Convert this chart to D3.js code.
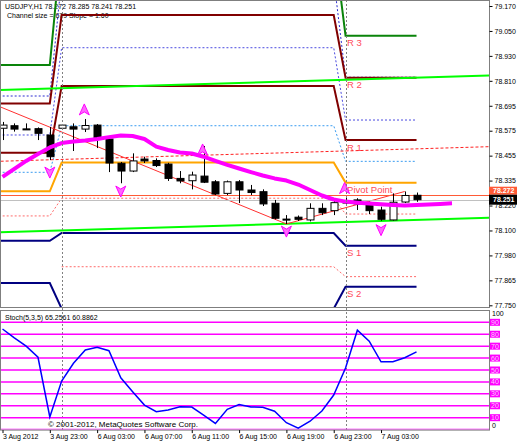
<!DOCTYPE html>
<html>
<head>
<meta charset="utf-8">
<script src="https://cdn.jsdelivr.net/npm/d3@7"></script>
<style>
body { margin: 0; background: #fff; }
svg text { font-family: "Liberation Sans", Arial, sans-serif; }
</style>
</head>
<body>
<div id="chart"></div>
<script>
// USDJPY H1, bar 0 = 3 Aug 2012 19:00
var opens  = [78.590,78.602,78.587,78.588,78.558,78.590,78.597,78.586,78.605,78.539,78.424,78.387,78.444,78.437,78.420,78.352,78.341,78.363,78.336,78.281,78.336,78.297,78.289,78.234,78.159,78.168,78.155,78.210,78.199,78.235,78.250,78.226,78.202,78.155,78.240,78.272];
var highs  = [78.620,78.613,78.613,78.594,78.596,78.608,78.613,78.634,78.610,78.553,78.430,78.471,78.455,78.447,78.426,78.387,78.384,78.506,78.344,78.342,78.344,78.321,78.300,78.250,78.178,78.176,78.234,78.234,78.258,78.259,78.258,78.242,78.218,78.281,78.290,78.285];
var lows   = [78.534,78.574,78.584,78.534,78.439,78.582,78.482,78.572,78.496,78.382,78.329,78.382,78.425,78.406,78.340,78.329,78.300,78.330,78.273,78.273,78.235,78.273,78.221,78.158,78.136,78.150,78.148,78.178,78.178,78.228,78.202,78.183,78.151,78.152,78.235,78.241];
var closes = [78.605,78.586,78.585,78.566,78.455,78.605,78.586,78.603,78.546,78.425,78.387,78.435,78.435,78.413,78.352,78.340,78.368,78.334,78.278,78.336,78.297,78.285,78.231,78.163,78.157,78.158,78.210,78.189,78.237,78.242,78.231,78.199,78.158,78.239,78.271,78.251];

// moving average, shifted 3 bars forward (bar 0..38)
var maValues = [78.359,78.397,78.435,78.468,78.499,78.520,78.527,78.532,78.539,78.548,78.556,78.553,78.539,78.503,78.487,78.475,78.470,78.455,78.435,78.416,78.399,78.382,78.366,78.352,78.342,78.323,78.297,78.271,78.252,78.242,78.237,78.233,78.229,78.226,78.224,78.226,78.228,78.231,78.234];

// Stoch(5,3,5) main line
var stochValues = [84.4,77,70,60.7,10.6,40.7,55.6,66.8,69,66.2,43.5,31.8,20.6,15,16.4,19.2,18.9,12.2,5.2,17,21,19,18.8,15.4,5.8,1.2,7,15.6,29,51.7,83.4,74.2,56.9,56.9,60.3,65.26];
var stochLevels = [0,10,20,30,40,50,60,70,80,90];

// daily pivots: 3 Aug, 6 Aug, 7 Aug
var dayBars = [[-1, 4], [5, 28], [29, 35]];
var pivR3 = [78.890, 79.477, 79.029];
var pivR2 = [78.708, 79.127, 78.830];
var pivR1 = [78.474, 78.790, 78.534];
var pivP  = [78.291, 78.427, 78.332];
var pivS1 = [78.056, 78.093, 78.033];
var pivS2 = [77.856, 77.734, 77.838];
var dotNavy   = [78.743, 79.300, 78.832];
var dotBlue   = [78.558, 78.972, 78.629];
var dotSky    = [78.381, 78.602, 78.433];
var dotSalmon = [78.174, 78.258, 78.183];
var dotSalmon2 = [null, 77.933, 77.886];
var pivotNames = ["R 3", "R 2", "R 1", "Pivot Point", "S 1", "S 2"];

// regression channel (bar, price)
var channelBars  = [-1, 42];
var channelUpper = [78.770, 78.842];
var channelMid   = [78.432, 78.504];
var channelLower = [78.095, 78.167];

// zigzag style trend lines
var trendBars   = [[-1, 24], [24, 34]];
var trendPrices = [[78.710, 78.136], [78.136, 78.290]];

// fractal arrows
var fractalUpBars = [7, 17, 29];
var fractalUpPrices = [78.677, 78.487, 78.304];
var fractalDnBars = [4, 10, 24, 32];
var fractalDnPrices = [78.382, 78.292, 78.102, 78.109];

var openLine = 78.272;
var bidPrice = 78.251;

// axis labels
var priceLabels = ["77.750","77.865","77.980","78.100","78.220","78.335","78.455","78.575","78.695","78.810","78.930","79.050","79.170"];
var timeBars = [0, 4, 8, 12, 16, 20, 24, 28, 32];
var timeLabels = ["3 Aug 2012","3 Aug 23:00","6 Aug 03:00","6 Aug 07:00","6 Aug 11:00","6 Aug 15:00","6 Aug 19:00","6 Aug 23:00","7 Aug 03:00"];

// layout
var plotRight = 489,
    mainBottom = 307,
    stochTop = 310,
    stochBottom = 429.6;

var svg = d3.select("#chart")
  .append("svg")
    .attr("width", 518)
    .attr("height", 444);

svg.append("rect").attr("width", 518).attr("height", 444).attr("fill", "#fff");

var x = d3.scaleLinear().domain([0, 41]).range([2.5, 487.5]);
var y = d3.scaleLinear().domain([77.750, 79.170]).range([305.3, 6]);
var ys = d3.scaleLinear().domain([0, 100]).range([stochBottom, 310.4]);

svg.append("clipPath").attr("id", "mainClip")
  .append("rect").attr("x", 0).attr("y", 0).attr("width", plotRight).attr("height", mainBottom);
svg.append("clipPath").attr("id", "stochClip")
  .append("rect").attr("x", 0).attr("y", stochTop).attr("width", plotRight).attr("height", stochBottom - stochTop);

var main = svg.append("g").attr("clip-path", "url(#mainClip)");

// header
main.append("text").attr("x", 5).attr("y", 9).attr("font-size", 7).attr("fill", "#000")
  .text("USDJPY,H1  " + [openLine, highs[35], lows[35], closes[35]].map(d3.format(".3f")).join(" "));
main.append("text").attr("x", 7).attr("y", 18).attr("font-size", 7).attr("fill", "#000")
  .text("Channel size = 679  Slope = 1.60");

var line = d3.line().x(function(d) { return x(d[0]); }).y(function(d) { return y(d[1]); });

function stepPoints(vals) {
  var pts = [];
  vals.forEach(function(v, d) {
    if (v == null) return;
    pts.push([dayBars[d][0], v]);
    pts.push([dayBars[d][1], v]);
  });
  return pts;
}

// day separators
[5, 29].forEach(function(b) {
  svg.append("line")
    .attr("x1", Math.round(x(b)) + 0.5).attr("x2", Math.round(x(b)) + 0.5)
    .attr("y1", 0).attr("y2", stochBottom)
    .attr("stroke", "#808080").attr("stroke-dasharray", "2,2");
});

// dotted intermediate levels
var dotted = [
  {vals: dotNavy, color: "#2b2bd0"},
  {vals: dotBlue, color: "#4a4ae0"},
  {vals: dotSky, color: "#3a9cf0"},
  {vals: dotSalmon, color: "#ff6a6a"},
  {vals: dotSalmon2, color: "#ff6a6a"}
];
dotted.forEach(function(l) {
  main.append("path").attr("d", line(stepPoints(l.vals)))
    .attr("fill", "none").attr("stroke", l.color).attr("stroke-width", 1).attr("stroke-dasharray", "2,2");
});

// pivot levels
var pivots = [
  {vals: pivR3, color: "#0a840a"},
  {vals: pivR2, color: "#800000"},
  {vals: pivR1, color: "#800000"},
  {vals: pivP, color: "#ffa500"},
  {vals: pivS1, color: "#000080"},
  {vals: pivS2, color: "#000080"}
];
pivots.forEach(function(l, i) {
  main.append("path").attr("d", line(stepPoints(l.vals)))
    .attr("fill", "none").attr("stroke", l.color).attr("stroke-width", 2);
  main.append("text")
    .attr("x", x(29) + 1.5).attr("y", y(l.vals[2]) + 10.5)
    .attr("font-size", 9.5).attr("fill", "#ff4a5a")
    .text(pivotNames[i]);
});

// regression channel
[channelUpper, channelLower].forEach(function(c) {
  main.append("path").attr("d", line(channelBars.map(function(b, i) { return [b, c[i]]; })))
    .attr("fill", "none").attr("stroke", "#00ff00").attr("stroke-width", 2);
});
main.append("path").attr("d", line(channelBars.map(function(b, i) { return [b, channelMid[i]]; })))
  .attr("fill", "none").attr("stroke", "#ff2020").attr("stroke-width", 1).attr("stroke-dasharray", "3,2");

// trend lines
trendBars.forEach(function(tb, i) {
  main.append("path").attr("d", line([[tb[0], trendPrices[i][0]], [tb[1], trendPrices[i][1]]]))
    .attr("fill", "none").attr("stroke", "#ff3030").attr("stroke-width", 1);
});

// open line and bid line
main.append("line").attr("x1", 0).attr("x2", plotRight)
  .attr("y1", Math.round(y(openLine)) + 0.5).attr("y2", Math.round(y(openLine)) + 0.5)
  .attr("stroke", "#ff5a36");
main.append("line").attr("x1", 0).attr("x2", plotRight)
  .attr("y1", Math.round(y(bidPrice)) + 0.5).attr("y2", Math.round(y(bidPrice)) + 0.5)
  .attr("stroke", "#c0c0c0");

// candles
var bars = d3.range(opens.length);
main.selectAll(".wick").data(bars).enter().append("line")
  .attr("x1", function(i) { return Math.round(x(i)) + 0.5; })
  .attr("x2", function(i) { return Math.round(x(i)) + 0.5; })
  .attr("y1", function(i) { return y(highs[i]); })
  .attr("y2", function(i) { return y(lows[i]); })
  .attr("stroke", "#000");
main.selectAll(".body").data(bars).enter().append("rect")
  .attr("x", function(i) { return Math.round(x(i)) - 3; })
  .attr("y", function(i) { return y(Math.max(opens[i], closes[i])); })
  .attr("width", 7)
  .attr("height", function(i) { return Math.max(1, Math.abs(y(opens[i]) - y(closes[i]))); })
  .attr("fill", function(i) { return closes[i] >= opens[i] ? "#fff" : "#000"; })
  .attr("stroke", "#000");

// moving average
main.append("path")
  .attr("d", line(maValues.map(function(v, i) { return [i, v]; })))
  .attr("fill", "none").attr("stroke", "#ff00ff").attr("stroke-width", 4).attr("stroke-linejoin", "round");

// fractal arrows
function arrow(cx, cy, up) {
  var s = up ? 1 : -1;
  return "M" + cx + "," + (cy - 6 * s) + "L" + (cx + 5) + "," + (cy + 5 * s) +
         "L" + cx + "," + (cy + 2 * s) + "L" + (cx - 5) + "," + (cy + 5 * s) + "Z";
}
fractalUpBars.forEach(function(b, i) {
  main.append("path").attr("d", arrow(x(b) - 1, y(fractalUpPrices[i]), true))
    .attr("fill", "#ff66ff").attr("stroke", "#ff00ff").attr("stroke-width", 1);
});
fractalDnBars.forEach(function(b, i) {
  main.append("path").attr("d", arrow(x(b), y(fractalDnPrices[i]), false))
    .attr("fill", "#ff66ff").attr("stroke", "#ff00ff").attr("stroke-width", 1);
});

// main border
svg.append("rect").attr("x", 0.5).attr("y", 0.5).attr("width", plotRight).attr("height", mainBottom)
  .attr("fill", "none").attr("stroke", "#7f7f7f");

// price axis
var priceTicks = d3.range(priceLabels.length).map(function(i) { return 77.750 + i * (79.170 - 77.750) / 12; });
var yAxis = svg.append("g")
  .attr("transform", "translate(" + (plotRight + 0.5) + ",0)")
  .call(d3.axisRight(y).tickValues(priceTicks).tickSize(3).tickPadding(2)
    .tickFormat(function(d, i) { return priceLabels[i]; }));
yAxis.select(".domain").remove();
yAxis.selectAll("text").attr("font-size", 7).attr("font-family", "Liberation Sans, Arial, sans-serif").attr("fill", "#000");

// current price boxes: open label sits just above the bid label
var bidY = y(bidPrice);
svg.append("rect").attr("x", plotRight).attr("y", bidY - 13).attr("width", 28).attr("height", 8).attr("fill", "#ff5a36");
svg.append("text").attr("x", plotRight + 4).attr("y", bidY - 6.5)
  .attr("font-size", 7).attr("font-weight", "bold").attr("fill", "#fff").text(d3.format(".3f")(openLine));
svg.append("rect").attr("x", plotRight).attr("y", bidY - 5).attr("width", 28).attr("height", 10).attr("fill", "#000");
svg.append("text").attr("x", plotRight + 4).attr("y", bidY + 2.5)
  .attr("font-size", 7).attr("font-weight", "bold").attr("fill", "#fff").text(d3.format(".3f")(bidPrice));

// stochastic window
var stoch = svg.append("g").attr("clip-path", "url(#stochClip)");
stochLevels.forEach(function(l) {
  stoch.append("line").attr("x1", 0).attr("x2", plotRight).attr("y1", ys(l)).attr("y2", ys(l))
    .attr("stroke", "#ff00ff").attr("stroke-width", 1.5);
});
stoch.append("path")
  .attr("d", d3.line().x(function(d, i) { return x(i); }).y(function(d) { return ys(d); })(stochValues))
  .attr("fill", "none").attr("stroke", "#0000ff").attr("stroke-width", 1.5);
stoch.append("text").attr("x", 5).attr("y", 320).attr("font-size", 7).attr("fill", "#000")
  .text("Stoch(5,3,5) 65.2561 60.8862");
stoch.append("text").attr("x", 48).attr("y", 427).attr("font-size", 8).attr("fill", "#000")
  .text("\u00a9 2001-2012, MetaQuotes Software Corp.");

svg.append("rect").attr("x", 0.5).attr("y", stochTop + 0.5).attr("width", plotRight).attr("height", stochBottom - stochTop)
  .attr("fill", "none").attr("stroke", "#7f7f7f");

// stoch level labels
stochLevels.filter(function(l) { return l > 0; }).forEach(function(l) {
  svg.append("rect").attr("x", plotRight + 1).attr("y", ys(l) - 3.5).attr("width", 10).attr("height", 7).attr("fill", "#ff00ff");
  svg.append("text").attr("x", plotRight + 2).attr("y", ys(l) + 2.5).attr("font-size", 7).attr("fill", "#ffc8ff").text(l);
});
svg.append("text").attr("x", plotRight + 3).attr("y", 316).attr("font-size", 7).attr("fill", "#000").text("100");
svg.append("text").attr("x", plotRight + 3).attr("y", 428).attr("font-size", 7).attr("fill", "#000").text("0");

// time axis
var xAxis = svg.append("g")
  .attr("transform", "translate(0," + (stochBottom + 0.5) + ")")
  .call(d3.axisBottom(x).tickValues(timeBars).tickSize(3).tickPadding(1)
    .tickFormat(function(d, i) { return timeLabels[i]; }));
xAxis.select(".domain").remove();
xAxis.selectAll("text").attr("font-size", 7).attr("font-family", "Liberation Sans, Arial, sans-serif")
  .attr("fill", "#000").style("text-anchor", "start");
</script>
</body>
</html>
